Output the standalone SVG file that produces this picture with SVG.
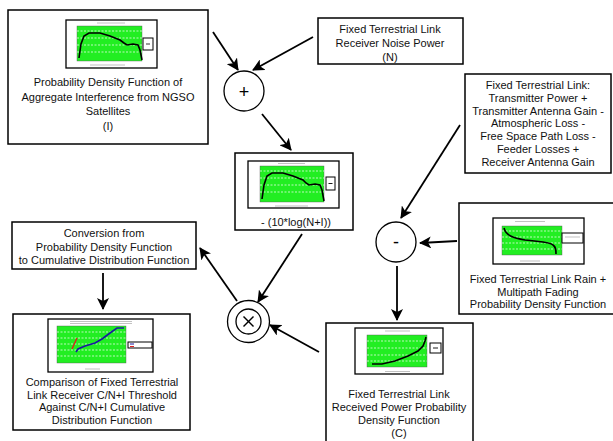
<svg xmlns="http://www.w3.org/2000/svg" width="613" height="441" viewBox="0 0 613 441">
<defs>
<marker id="ah" markerWidth="12" markerHeight="12" refX="11" refY="6" orient="auto" markerUnits="userSpaceOnUse">
<path d="M0,0 L12,6 L0,12 L3,6 Z" fill="#000"/>
</marker>
<style>
.box{fill:#fff;stroke:#000;stroke-width:1.5}
.t{font-family:"Liberation Sans",Arial,sans-serif;font-size:11px;fill:#111;text-anchor:middle}
.op{font-family:"Liberation Sans",Arial,sans-serif;font-size:18px;fill:#000;text-anchor:middle}
.frame{fill:#fff;stroke:#000;stroke-width:1.3}
.plot{fill:#22ee22;stroke:#555;stroke-width:0.4}
.grid{stroke:#fff;stroke-width:0.7;stroke-dasharray:2 1.5}
.curve{fill:none;stroke:#000;stroke-width:1.6}
.leg{fill:#fff;stroke:#000;stroke-width:1}
.tiny{stroke:#999;stroke-width:0.6}
.conn{stroke:#000;stroke-width:1.8;fill:none;marker-end:url(#ah)}
.circ{fill:#fff;stroke:#000;stroke-width:1.3}
</style>
</defs>

<g id="connectors">
<line class="conn" x1="213" y1="32" x2="238" y2="70"/>
<line class="conn" x1="313" y1="37" x2="253" y2="70"/>
<line class="conn" x1="262" y1="114" x2="291" y2="150"/>
<line class="conn" x1="460" y1="125" x2="401" y2="218"/>
<line class="conn" x1="457" y1="241" x2="420" y2="243"/>
<line class="conn" x1="397" y1="266" x2="397" y2="320"/>
<line class="conn" x1="302" y1="234" x2="258" y2="302"/>
<line class="conn" x1="319" y1="352" x2="270" y2="325"/>
<line class="conn" x1="237" y1="301" x2="200" y2="248"/>
<line class="conn" x1="103" y1="273" x2="103" y2="309"/>
</g>

<g id="node-interference">
<rect class="box" x="8" y="10" width="200" height="134"/>
<rect class="frame" x="66" y="20" width="91" height="48"/>
<line class="tiny" x1="97" y1="23" x2="125" y2="23"/>
<rect class="plot" x="77" y="26" width="65" height="35"/>
<g class="grid"><line x1="77" y1="31" x2="142" y2="31"/><line x1="77" y1="38" x2="142" y2="38"/><line x1="77" y1="45" x2="142" y2="45"/><line x1="77" y1="52" x2="142" y2="52"/></g>
<path class="curve" d="M79,58 L81,44 L84,36 L89,33 L100,33 L110,36 L120,40 L124,43 L127,45 L133,44 L138,45 L140,50 L142,60"/>
<line class="tiny" x1="90" y1="65" x2="125" y2="65"/>
<rect class="leg" x="143" y="38" width="10" height="12"/>
<line x1="146" y1="44" x2="150" y2="44" stroke="#000" stroke-width="0.8"/>
<text class="t" x="108" y="86">Probability Density Function of</text>
<text class="t" x="108" y="101">Aggregate Interference from NGSO</text>
<text class="t" x="108" y="115">Satellites</text>
<text class="t" x="108" y="130">(I)</text>
</g>

<g id="node-noise">
<rect class="box" x="318" y="18" width="145" height="46"/>
<text class="t" x="390" y="33">Fixed Terrestrial Link</text>
<text class="t" x="390" y="47">Receiver Noise Power</text>
<text class="t" x="390" y="61">(N)</text>
</g>

<g id="node-plus">
<circle class="circ" cx="244" cy="91" r="20"/>
<text class="op" x="244" y="98">+</text>
</g>

<g id="node-log">
<rect class="box" x="235" y="153" width="118" height="77"/>
<rect class="frame" x="248" y="161" width="91" height="47"/>
<line class="tiny" x1="278" y1="163.5" x2="305" y2="163.5"/>
<rect class="plot" x="260" y="166" width="64" height="36"/>
<g class="grid"><line x1="260" y1="171" x2="324" y2="171"/><line x1="260" y1="178" x2="324" y2="178"/><line x1="260" y1="185" x2="324" y2="185"/><line x1="260" y1="192" x2="324" y2="192"/></g>
<path class="curve" d="M262,199 L264,185 L267,176 L272,173 L283,173 L293,176 L303,180 L306,183 L309,185 L315,184 L320,185 L322,190 L324,201"/>
<line class="tiny" x1="275" y1="206" x2="308" y2="206"/>
<rect class="leg" x="326" y="177" width="9" height="13"/>
<line x1="328.5" y1="183.5" x2="332.5" y2="183.5" stroke="#000" stroke-width="0.9"/>
<text class="t" x="296" y="226">- (10*log(N+I))</text>
</g>

<g id="node-budget">
<rect class="box" x="465" y="74" width="146" height="99"/>
<text class="t" x="538" y="89">Fixed Terrestrial Link:</text>
<text class="t" x="538" y="101.8">Transmitter Power +</text>
<text class="t" x="538" y="114.6">Transmitter Antenna Gain -</text>
<text class="t" x="538" y="127.4">Atmospheric Loss -</text>
<text class="t" x="538" y="140.2">Free Space Path Loss -</text>
<text class="t" x="538" y="153">Feeder Losses +</text>
<text class="t" x="538" y="165.8">Receiver Antenna Gain</text>
</g>

<g id="node-minus">
<circle class="circ" cx="396" cy="242" r="20"/>
<text class="op" x="396" y="248">-</text>
</g>

<g id="node-fading">
<rect class="box" x="459" y="203" width="160" height="111"/>
<rect class="frame" x="493" y="218" width="91" height="46"/>
<line class="tiny" x1="515" y1="221.5" x2="545" y2="221.5"/>
<rect class="plot" x="502" y="226" width="60" height="29"/>
<g class="grid"><line x1="502" y1="231" x2="562" y2="231"/><line x1="502" y1="237" x2="562" y2="237"/><line x1="502" y1="243" x2="562" y2="243"/><line x1="502" y1="249" x2="562" y2="249"/></g>
<path class="curve" d="M504,228 C506,236 514,238 525,240 C540,242 550,242 553,245 C556,247 556,250 556,254"/>
<line class="tiny" x1="520" y1="261" x2="540" y2="261"/>
<rect class="leg" x="562" y="233" width="21" height="10"/>
<line class="tiny" x1="565" y1="237" x2="580" y2="237"/>
<text class="t" x="538" y="283">Fixed Terrestrial Link Rain +</text>
<text class="t" x="538" y="296">Multipath Fading</text>
<text class="t" x="538" y="308">Probability Density Function</text>
</g>

<g id="node-received">
<rect class="box" x="326" y="323" width="147" height="125"/>
<rect class="frame" x="355" y="328" width="88" height="46"/>
<line class="tiny" x1="385" y1="331" x2="410" y2="331"/>
<rect class="plot" x="367" y="335" width="60" height="32"/>
<g class="grid"><line x1="367" y1="341" x2="427" y2="341"/><line x1="367" y1="348" x2="427" y2="348"/><line x1="367" y1="355" x2="427" y2="355"/><line x1="367" y1="361" x2="427" y2="361"/></g>
<path class="curve" d="M372,364 L382,364 L395,361 L408,356 L418,351 L423,346 L425,341 L426,337"/>
<line class="tiny" x1="385" y1="371.5" x2="410" y2="371.5"/>
<rect class="leg" x="430" y="343" width="11" height="10"/>
<line x1="433" y1="348" x2="438" y2="348" stroke="#000" stroke-width="0.9"/>
<text class="t" x="399" y="398">Fixed Terrestrial Link</text>
<text class="t" x="399" y="411">Received Power Probability</text>
<text class="t" x="399" y="424">Density Function</text>
<text class="t" x="399" y="437">(C)</text>
</g>

<g id="node-multiply">
<circle class="circ" cx="248.5" cy="321.5" r="21"/>
<circle class="circ" cx="248.5" cy="321.5" r="12.5"/>
<line x1="243.5" y1="316.5" x2="253.5" y2="326.5" stroke="#000" stroke-width="1.4"/>
<line x1="253.5" y1="316.5" x2="243.5" y2="326.5" stroke="#000" stroke-width="1.4"/>
</g>

<g id="node-conversion">
<rect class="box" x="12" y="222" width="184" height="47"/>
<text class="t" x="104" y="237">Conversion from</text>
<text class="t" x="104" y="251">Probability Density Function</text>
<text class="t" x="104" y="264">to Cumulative Distribution Function</text>
</g>

<g id="node-comparison">
<rect class="box" x="13" y="314" width="177" height="116"/>
<rect class="frame" x="48" y="319" width="105" height="53"/>
<line class="tiny" x1="70" y1="321.5" x2="132" y2="321.5"/>
<line class="tiny" x1="70" y1="323.5" x2="132" y2="323.5"/>
<rect class="plot" x="57" y="326" width="69" height="37"/>
<g class="grid"><line x1="57" y1="332" x2="126" y2="332"/><line x1="57" y1="338" x2="126" y2="338"/><line x1="57" y1="344" x2="126" y2="344"/><line x1="57" y1="350" x2="126" y2="350"/><line x1="57" y1="356" x2="126" y2="356"/></g>
<path d="M76,352 L78,349 L85,346 L95,343 L102,339 L110,333 L117,328 L124,328" fill="none" stroke="#1a1aa0" stroke-width="1.6"/>
<path d="M72,349 L77,338" fill="none" stroke="#e02020" stroke-width="1.4"/>
<line class="tiny" x1="85" y1="369" x2="100" y2="369"/>
<rect class="leg" x="128" y="342" width="24" height="6" stroke-width="0.8"/>
<line x1="130" y1="344" x2="134" y2="344" stroke="#1a1aa0" stroke-width="1"/>
<line x1="130" y1="346.5" x2="134" y2="346.5" stroke="#e02020" stroke-width="1"/>
<text class="t" x="102" y="386">Comparison of Fixed Terrestrial</text>
<text class="t" x="102" y="399">Link Receiver C/N+I Threshold</text>
<text class="t" x="102" y="411">Against C/N+I Cumulative</text>
<text class="t" x="102" y="424">Distribution Function</text>
</g>
</svg>
